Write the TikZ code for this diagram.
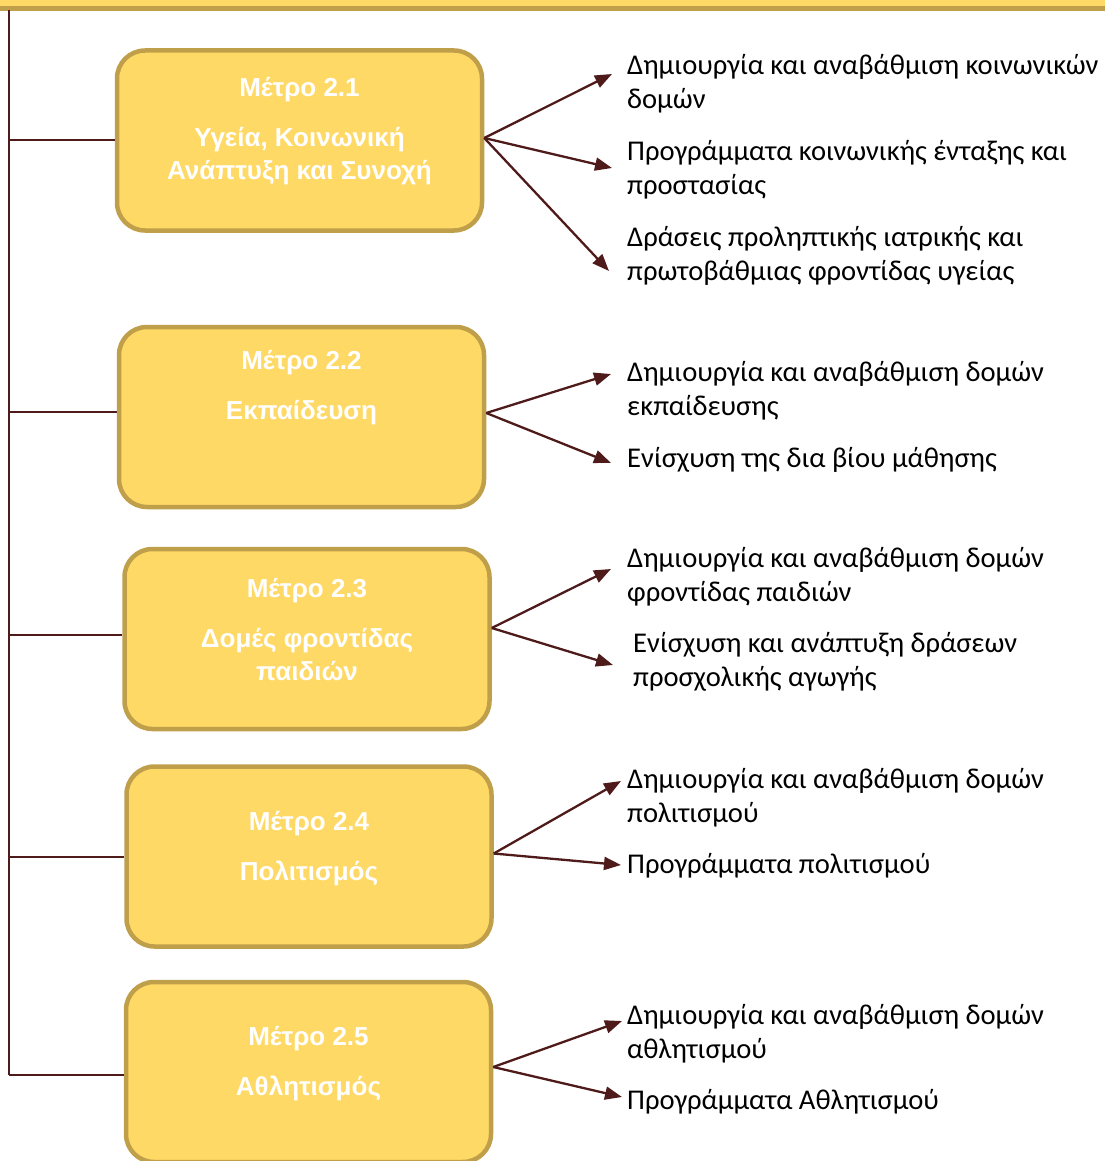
\documentclass[tikz,border=0pt]{standalone}
\usepackage{fontspec}
\setmainfont{Carlito}
\newfontfamily\measurefont{Liberation Sans}
\usetikzlibrary{arrows.meta}
\definecolor{boxfill}{HTML}{FFD966}
\definecolor{boxedge}{HTML}{BF9F4A}
\definecolor{linkcol}{HTML}{4E1A1A}
\tikzset{%
  every measure/.style={
    rectangle,
    rounded corners=28pt,
    draw=boxedge,
    line width=4.5pt,
    fill=boxfill,
    minimum width=365pt,
    minimum height=180pt
  },
  measure text/.style={
    anchor=base,
    align=center,
    inner sep=0pt,
    text=white,
    font=\measurefont\bfseries\fontsize{26}{33}\selectfont
  },
  action/.style={
    anchor=base west,
    align=left,
    inner sep=0pt,
    font=\fontsize{28.6}{34}\selectfont
  },
  link/.style={
    draw=linkcol,
    line width=2.3pt,
    -{Triangle[length=17pt,width=13pt]}
  },
  trunk/.style={draw=linkcol, line width=1.8pt},
}

\begin{document}
\begin{tikzpicture}[x=1pt, y=-1pt]
        \useasboundingbox (0,0) rectangle (1104,1161);

        %%%%%%%%%%%%%%%%%%%%%%%%%%%%%%%%%%%%%%%%%%%%
        % Top bar
        %%%%%%%%%%%%%%%%%%%%%%%%%%%%%%%%%%%%%%%%%%%%
        \fill[boxfill] (-10,-30) rectangle (1114,8);
        \draw[boxedge, line width=4.5pt] (-10,8.5) -- (1114,8.5);

        %%%%%%%%%%%%%%%%%%%%%%%%%%%%%%%%%%%%%%%%%%%%
        % Measures
        %%%%%%%%%%%%%%%%%%%%%%%%%%%%%%%%%%%%%%%%%%%%

        % Drawing
        \foreach \x/\y [count=\i] in {299.5/140.5, 301.5/417, 307/639, 309/856.5, 308.5/1072}
            \node [every measure] (m\i) at (\x,\y) {};

        % Labeling (base of the last line)
        \node [measure text] (m1-text) at (m1 |- 0,180)
            {Μέτρο 2.1\\[17pt]Υγεία, Κοινωνική\\Ανάπτυξη και Συνοχή};
        \node [measure text] (m2-text) at (m2 |- 0,419)
            {Μέτρο 2.2\\[17pt]Εκπαίδευση};
        \node [measure text] (m3-text) at (m3 |- 0,680)
            {Μέτρο 2.3\\[17pt]Δομές φροντίδας\\παιδιών};
        \node [measure text] (m4-text) at (m4 |- 0,880)
            {Μέτρο 2.4\\[17pt]Πολιτισμός};
        \node [measure text] (m5-text) at (m5 |- 0,1095)
            {Μέτρο 2.5\\[17pt]Αθλητισμός};

        %%%%%%%%%%%%%%%%%%%%%%%%%%%%%%%%%%%%%%%%%%%%
        % Actions (base of the last line)
        %%%%%%%%%%%%%%%%%%%%%%%%%%%%%%%%%%%%%%%%%%%%
        \node [action] (a1) at (627,109) {Δημιουργία και αναβάθμιση κοινωνικών\\δομών};
        \node [action] (a2) at (627,195) {Προγράμματα κοινωνικής ένταξης και\\προστασίας};
        \node [action] (a3) at (627,280) {Δράσεις προληπτικής ιατρικής και\\πρωτοβάθμιας φροντίδας υγείας};
        \node [action] (a4) at (627,415) {Δημιουργία και αναβάθμιση δομών\\εκπαίδευσης};
        \node [action] (a5) at (627,467) {Ενίσχυση της δια βίου μάθησης};
        \node [action] (a6) at (627,601) {Δημιουργία και αναβάθμιση δομών\\φροντίδας παιδιών};
        \node [action] (a7) at (633,686) {Ενίσχυση και ανάπτυξη δράσεων\\προσχολικής αγωγής};
        \node [action] (a8) at (627,822) {Δημιουργία και αναβάθμιση δομών\\πολιτισμού};
        \node [action] (a9) at (627,873) {Προγράμματα πολιτισμού};
        \node [action] (a10) at (627,1058) {Δημιουργία και αναβάθμιση δομών\\αθλητισμού};
        \node [action] (a11) at (627,1109) {Προγράμματα Αθλητισμού};

        %%%%%%%%%%%%%%%%%%%%%%%%%%%%%%%%%%%%%%%%%%%%
        % Connecting
        %%%%%%%%%%%%%%%%%%%%%%%%%%%%%%%%%%%%%%%%%%%%

        % Trunk to measures
        \coordinate (top) at (9,10.5);
        \coordinate (bottom) at (9,1075);
        \draw [trunk] (top) -- (bottom);
        \foreach \i/\d in {1/0.5, 2/5, 3/4, 4/-0.5, 5/-3}
            \draw [trunk] ([yshift=\d pt]top |- m\i.west) -- ([yshift=\d pt]m\i.west);

        % Measures to actions
        \foreach \n/\x/\y in {1/612/74, 2/612/168, 3/609/271, 4/611/374,
            5/611/463, 6/611/569, 7/613/665, 8/621/781, 9/621/865,
            10/622/1021, 11/622/1097}
            \coordinate (tip-\n) at (\x,\y);
        \foreach \m/\n/\d in {1/1/2.5, 1/2/2.5, 1/3/2.5, 2/4/4, 2/5/4,
            3/6/11, 3/7/11, 4/8/3, 4/9/3, 5/10/5, 5/11/5}
            \draw [link] ([yshift=\d pt]m\m.east) -- (tip-\n);
\end{tikzpicture}
\end{document}
